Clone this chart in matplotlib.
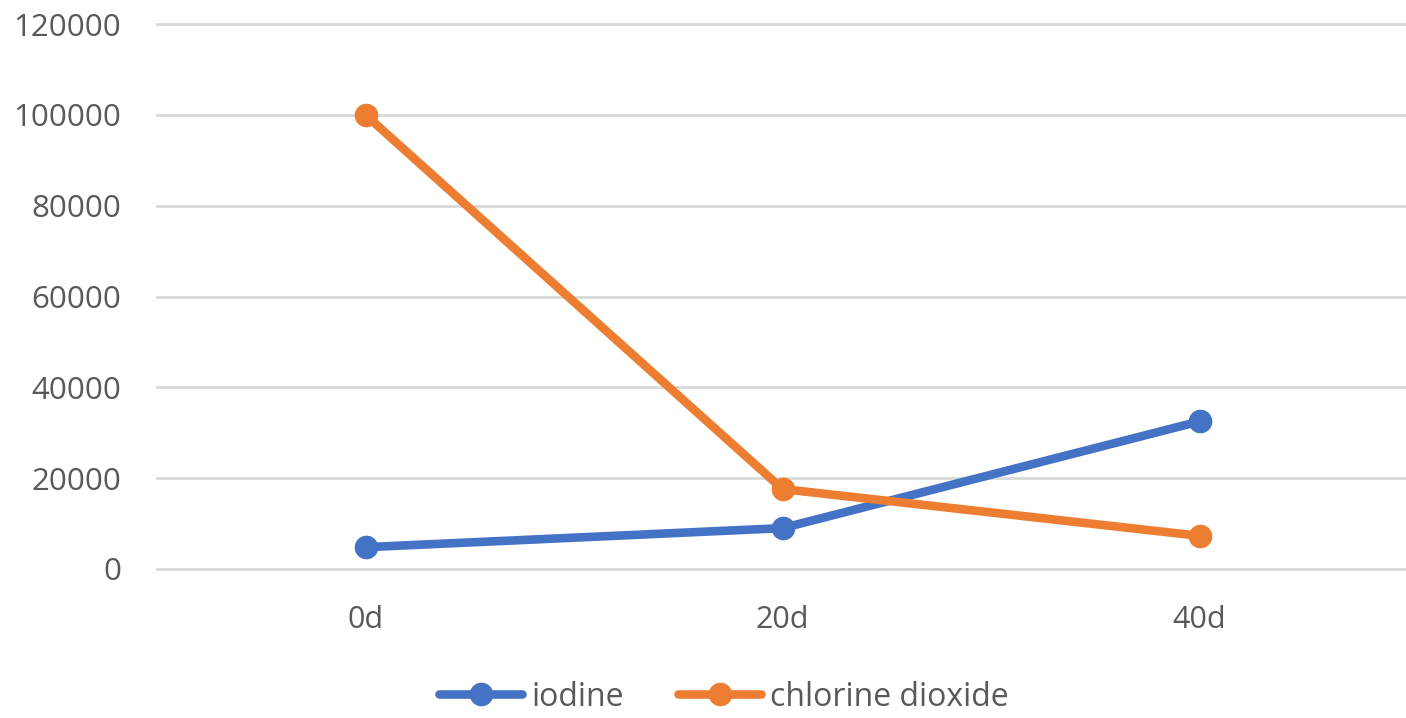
import matplotlib
matplotlib.use("Agg")
import matplotlib.pyplot as plt
from matplotlib.lines import Line2D

categories = ["0d", "20d", "40d"]
iodine = [4800, 9000, 32500]
chlorine_dioxide = [100000, 17600, 7300]
y_ticks = [0, 20000, 40000, 60000, 80000, 100000, 120000]

plt.rcParams["font.family"] = ["Open Sans", "DejaVu Sans"]
text_color = "#595959"
blue = "#4472C4"
orange = "#ED7D31"
lw = 6.2
ms = 16

fig = plt.figure(figsize=(14.06, 7.18), dpi=100)
ax = fig.add_axes([157 / 1406, 1 - 569 / 718, 1251 / 1406, (569 - 24) / 718])

x = [i + 0.5 for i in range(len(categories))]
line_kw = dict(linewidth=lw, marker="o", markersize=ms, solid_capstyle="round",
               solid_joinstyle="round", zorder=3)
ax.plot(x, iodine, color=blue, label="iodine", **line_kw)
ax.plot(x, chlorine_dioxide, color=orange, label="chlorine dioxide", **line_kw)

ax.set_xlim(0, len(categories))
ax.set_ylim(0, 120000)
ax.set_yticks(y_ticks)
ax.set_yticklabels([str(v) for v in y_ticks])
ax.set_xticks(x)
ax.set_xticklabels(categories)

ax.grid(axis="y", color="#D9D9D9", linewidth=2.0, zorder=0)
for gl in ax.yaxis.get_gridlines():
    gl.set_clip_on(False)
ax.set_axisbelow(True)
for s in ax.spines.values():
    s.set_visible(False)
ax.tick_params(axis="both", length=0, labelsize=22, labelcolor=text_color)
ax.tick_params(axis="y", labelsize=22.5, pad=26)
ax.tick_params(axis="x", pad=26)

handles = [
    Line2D([0], [0], color=blue, linewidth=lw, marker="o", markersize=ms,
           solid_capstyle="round"),
    Line2D([0], [0], color=orange, linewidth=lw, marker="o", markersize=ms,
           solid_capstyle="round"),
]
leg = fig.legend(handles, ["iodine", "chlorine dioxide"], loc="center",
                 bbox_to_anchor=(724 / 1406, 1 - 697 / 718), ncol=2, frameon=False,
                 fontsize=23, handlelength=2.6, handletextpad=0.28, columnspacing=1.7,
                 labelcolor=text_color)

fig.savefig("out.png", dpi=100, facecolor="white")
